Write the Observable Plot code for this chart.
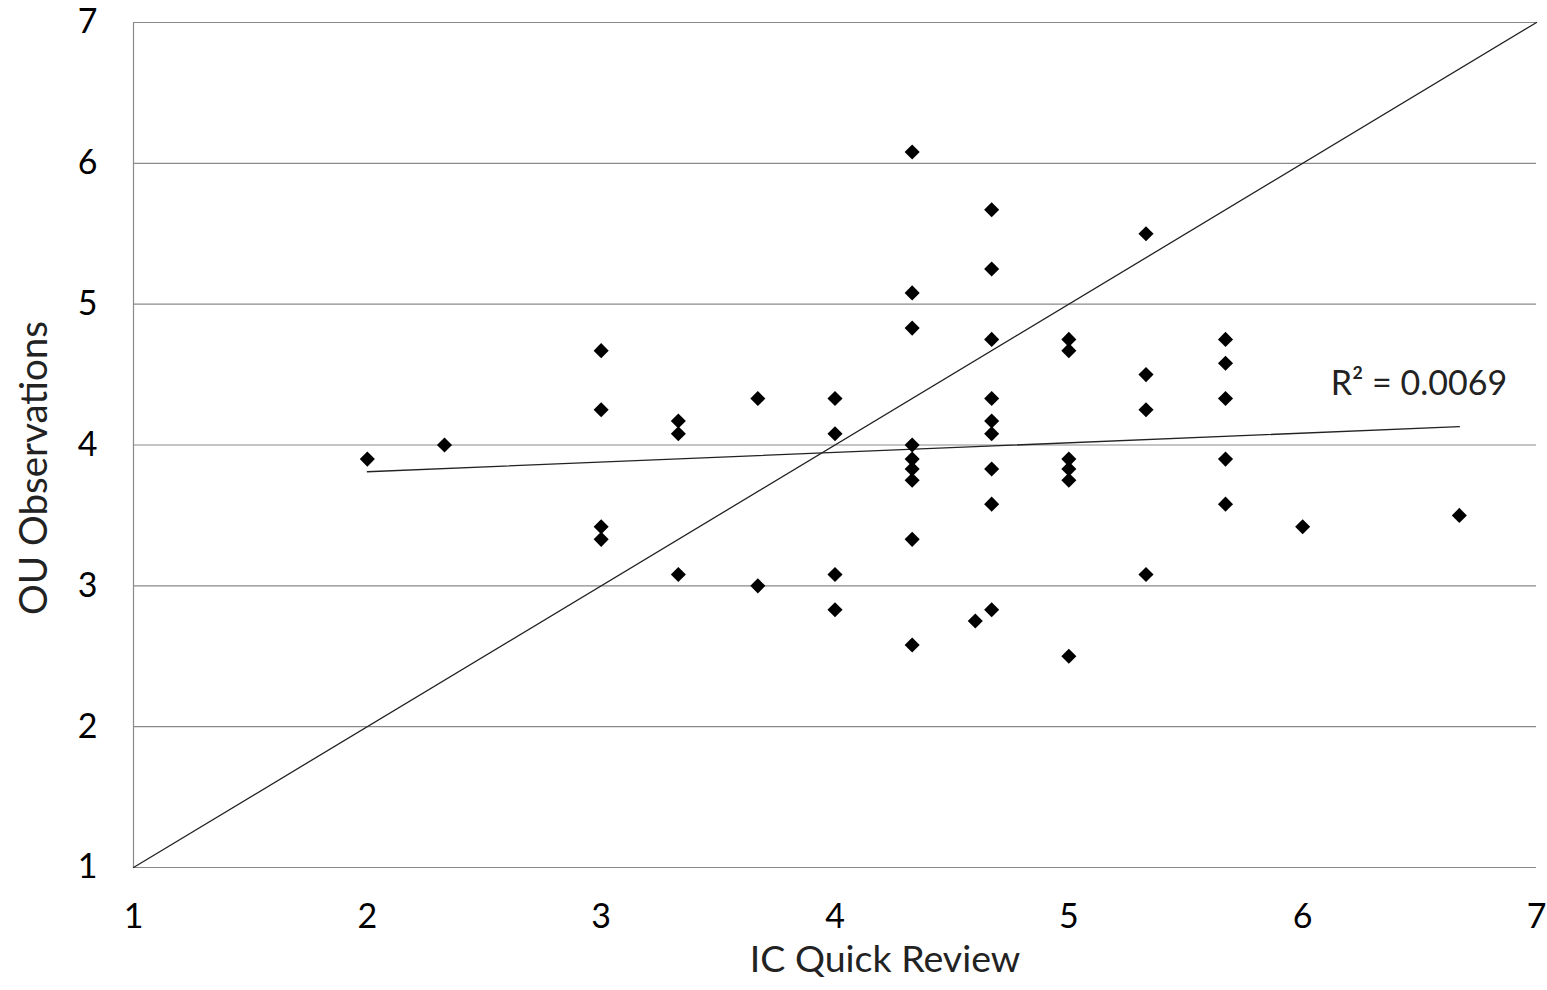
<!DOCTYPE html>
<html>
<head>
<meta charset="utf-8">
<script src="https://cdn.jsdelivr.net/npm/d3@7"></script>
<script src="https://cdn.jsdelivr.net/npm/@observablehq/plot@0.6"></script>
<style>
  html, body { margin: 0; padding: 0; background: #fff; }
  #chart { width: 1547px; height: 990px; }
</style>
</head>
<body>
<div id="chart"></div>
<script>
const icQuickReview = [
  2, 2.33,
  3, 3, 3, 3,
  3.33, 3.33, 3.33,
  3.67, 3.67,
  4, 4, 4, 4,
  4.33, 4.33, 4.33, 4.33, 4.33, 4.33, 4.33, 4.33, 4.33,
  4.67, 4.67, 4.67, 4.67, 4.67, 4.67, 4.67, 4.67, 4.67,
  4.6,
  5, 5, 5, 5, 5, 5,
  5.33, 5.33, 5.33, 5.33,
  5.67, 5.67, 5.67, 5.67, 5.67,
  6, 6.67
];
const ouObservations = [
  3.9, 4.0,
  4.67, 4.25, 3.42, 3.33,
  4.17, 4.08, 3.08,
  4.33, 3.0,
  4.33, 4.08, 3.08, 2.83,
  6.08, 5.08, 4.83, 4.0, 3.9, 3.83, 3.75, 3.33, 2.58,
  5.67, 5.25, 4.75, 4.33, 4.17, 4.08, 3.83, 3.58, 2.83,
  2.75,
  4.75, 4.67, 3.9, 3.83, 3.75, 2.5,
  5.5, 4.5, 4.25, 3.08,
  4.75, 4.58, 4.33, 3.9, 3.58,
  3.42, 3.5
];
const points = icQuickReview.map((x, i) => ({x, y: ouObservations[i]}));

const identityX = [1, 7];
const identityY = [1, 7];
const trendX = [2, 6.67];
const trendY = [3.81, 4.13];
const r2Label = ["R² = 0.0069"];
const r2X = [6.12];
const r2Y = [4.43];

const ticks = [1, 2, 3, 4, 5, 6, 7];
const xLabel = "IC Quick Review";
const yLabel = "OU Observations";

const gridColor = "#8a8a8a";
const font = "Lato, 'Open Sans', sans-serif";

const chart = Plot.plot({
  width: 1547,
  height: 990,
  marginLeft: 133,
  marginRight: 11,
  marginTop: 22,
  marginBottom: 123,
  style: { fontFamily: font, fontSize: "34px", color: "#000", background: "#fff", overflow: "visible" },
  x: { domain: [1, 7], ticks: ticks },
  y: { domain: [1, 7], ticks: ticks },
  marks: [
    Plot.ruleY(ticks, { stroke: gridColor, strokeWidth: 1.2 }),
    Plot.ruleX([1], { stroke: gridColor, strokeWidth: 1.2 }),
    Plot.axisX({ ticks: ticks, tickSize: 0, tickPadding: 36, label: null, fontSize: 34, tickFormat: d => String(d) }),
    Plot.axisY({ ticks: ticks, tickSize: 0, tickPadding: 36, label: null, fontSize: 34, tickFormat: d => String(d) }),
    Plot.line(identityX.map((x, i) => ({x, y: identityY[i]})), { x: "x", y: "y", stroke: "#222", strokeWidth: 1.3 }),
    Plot.line(trendX.map((x, i) => ({x, y: trendY[i]})), { x: "x", y: "y", stroke: "#222", strokeWidth: 1.3 }),
    Plot.dot(points, { x: "x", y: "y", symbol: d3.symbolDiamond2, r: 6.8, fill: "#000", stroke: "none" }),
    Plot.text(r2Label, { x: () => r2X[0], y: () => r2Y[0], text: d => d, textAnchor: "start", fontSize: 34, fill: "#222" }),
    Plot.text([xLabel], { frameAnchor: "bottom", text: d => d, textAnchor: "middle", dx: 50, dy: 104, fontSize: 37.5, fill: "#222" }),
    Plot.text([yLabel], { frameAnchor: "left", text: d => d, textAnchor: "middle", rotate: -90, dx: -99, dy: 23, fontSize: 38.5, fill: "#222" })
  ]
});
document.getElementById("chart").appendChild(chart);
</script>
</body>
</html>
